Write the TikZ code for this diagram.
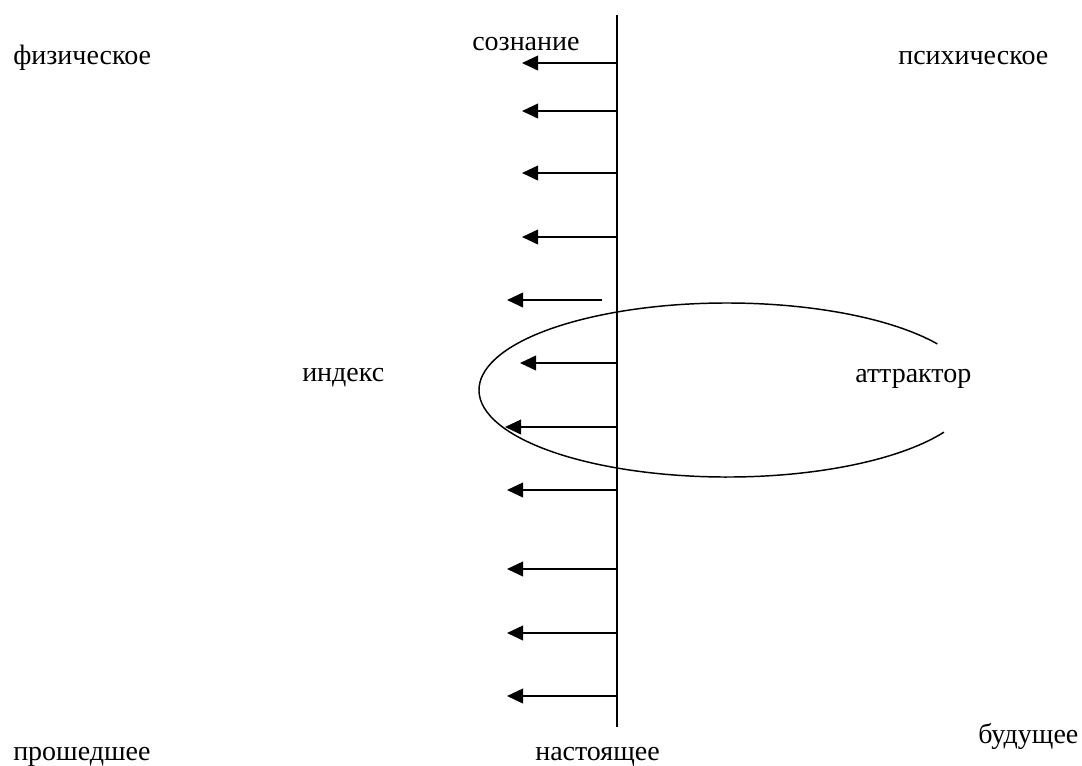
\documentclass[tikz,border=0pt]{standalone}
\usepackage{fontspec}
\setmainfont{Liberation Serif}
\usetikzlibrary{arrows.meta}
\begin{document}
\begin{tikzpicture}[x=0.75pt,y=-0.75pt,
  lbl/.style={anchor=base west,inner sep=0pt,font=\fontsize{21}{25}\selectfont},
  axis/.style={line width=1.5pt},
  tarrow/.style={line width=1.3pt,-{Triangle[length=12pt,width=11pt]}},
  attr/.style={line width=1.1pt}]
\useasboundingbox (0,0) rectangle (1082,765);
% labels
\node[lbl] (phys) at (13,64) {физическое};
\node[lbl] (cons) at (472,50) {сознание};
\node[lbl] (psych) at (898,64) {психическое};
\node[lbl] (index) at (302,381) {индекс};
\node[lbl] (attr) at (855,382) {аттрактор};
\node[lbl] (past) at (13,760) {прошедшее};
\node[lbl] (pres) at (535,760) {настоящее};
\node[lbl] (fut) at (978,743) {будущее};
% time axis
\coordinate (top) at (617,15);
\coordinate (bot) at (617,727);
\draw[axis] (top) -- (bot);
% arrows
\foreach \i/\y/\sx/\tx in {1/63/617/522,2/111/617/522,3/173/617/522,4/237/617/522,
  5/300/602/507,6/363/617/520,7/427/617/505,8/490/617/507,9/569/617/507,
  10/633/617/507,11/696/617/507}{
  \coordinate (s\i) at (\sx,\y);
  \coordinate (t\i) at (\tx,\y);
  \draw[tarrow] (s\i) -- (t\i);
}
% attractor ellipse (open on the right)
\coordinate (ec) at (727,390);
\draw[attr] (ec) ++(32:186pt and 65.25pt) arc[start angle=32,end angle=331,x radius=186pt,y radius=65.25pt];
\end{tikzpicture}
\end{document}
